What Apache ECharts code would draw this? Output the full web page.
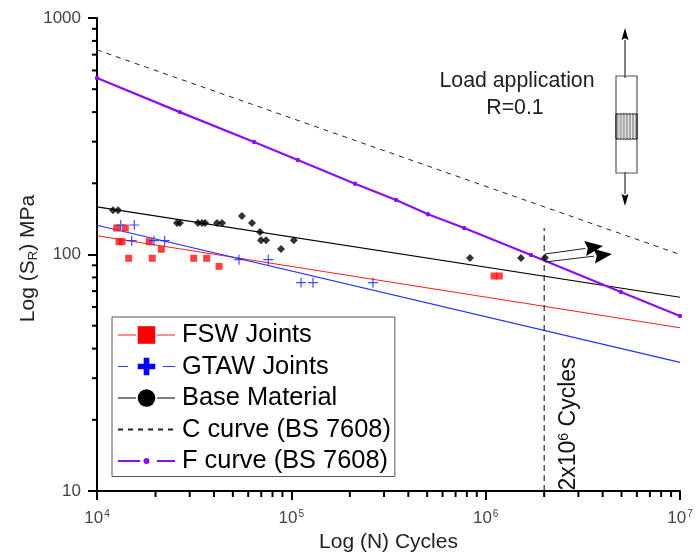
<!DOCTYPE html>
<html><head><meta charset="utf-8">
<style>html,body{margin:0;padding:0;background:#fff}#c{width:699px;height:552px}</style>
<script src="https://cdn.jsdelivr.net/npm/echarts@6/dist/echarts.min.js"></script>
</head><body><div id="c"></div>
<script>
const fswPoints=[[12630,129.4],[13985,129.4],[12980,113.3],[13450,113.3],[14550,96.4],[19250,96.4],[18580,113.3],[21430,105.2],[31450,96.4],[36680,96.4],[42470,89.1],[1104000,81.1],[1175000,81.1]];
const gtawPoints=[[13240,133.3],[15560,133.3],[15090,114.4],[19640,114.4],[22290,114.4],[53800,95.1],[76100,95.1],[112200,76],[129300,76],[263000,76]];
const basePoints=[[12090,154],[12830,154],[25800,136],[26700,136],[33100,136],[34700,136],[36000,136],[41450,136],[44000,136],[55700,145.5],[62750,136],[69000,124.5],[69800,115],[74100,115],[88500,105.5],[103000,115],[830000,96.7],[1520000,96.7],[2018000,97]];
const fswLine=[[1e4,120],[1e7,49]];
const gtawLine=[[1e4,133],[1e7,35]];
const baseLine=[[1e4,159],[1e7,66]];
const cCurve=[[1e4,733],[1e7,100]];
const fCurve=[[1e4,558],[26700,400],[64300,299],[108000,251],[212700,199],[346000,170],[505000,148],[775000,129.5],[1710000,99.5],[4966000,69.4],[1e7,55]];
const refLine=[[2e6,10],[2e6,129.4]];
const xMinor=[2,3,4,5,6,7,8,9].flatMap(m=>[1e4,1e5,1e6].map(d=>m*d));
const yMinor=[2,3,4,5,6,7,8,9].flatMap(m=>[10,100].map(d=>m*d));
const sup=v=>`{b|10}{s|${Math.round(Math.log10(v))}}`;
const thinPlus='path://M4.4 0h1.2v4.4h4.4v1.2h-4.4v4.4h-1.2v-4.4h-4.4v-1.2h4.4z';
const thickPlus='path://M3.4 0h3.2v3.4h3.4v3.2h-3.4v3.4h-3.2v-3.4h-3.4v-3.2h3.4z';
const smallDot='path://M0 0h.01v.01zM10 10h.01v.01zM5 3.3a1.7 1.7 0 1 0 .01 0z';
const tickText='#444';
const chart=echarts.init(document.getElementById('c'),null,{renderer:'canvas'});
function fitLine(name,data,color,width,extra){return Object.assign({name,type:'line',data,showSymbol:false,symbol:'circle',lineStyle:{color,width},itemStyle:{color},silent:true,z:3,animation:false},extra||{});}
function pts(name,data,color,symbol,size){return {name,type:'scatter',data,symbol,symbolSize:size,itemStyle:{color},silent:true,z:4,animation:false};}
function minorTicks(axis,vals){return {type:'custom',silent:true,z:5,clip:false,animation:false,data:vals.map(v=>[v]),encode:{x:axis==='x'?0:-1,y:axis==='y'?0:-1},
 renderItem(p,api){const v=api.value(0);
  if(axis==='x'){const c=api.coord([v,10]);return {type:'line',shape:{x1:c[0],y1:c[1],x2:c[0],y2:c[1]+6},style:{stroke:'#000',lineWidth:2}};}
  const c=api.coord([1e4,v]);return {type:'line',shape:{x1:c[0],y1:c[1],x2:c[0]-5,y2:c[1]},style:{stroke:'#000',lineWidth:2}};}};}
const arrow=(x1,y1,x2,y2,col,w,hl,hw)=>{const a=Math.atan2(y2-y1,x2-x1),ca=Math.cos(a),sa=Math.sin(a);
 return [{type:'line',shape:{x1,y1,x2:x2-hl*ca,y2:y2-hl*sa},style:{stroke:col,lineWidth:w},z:10},
 {type:'polygon',shape:{points:[[x2,y2],[x2-hl*ca-hw*sa,y2-hl*sa+hw*ca],[x2-hl*0.85*ca,y2-hl*0.85*sa],[x2-hl*ca+hw*sa,y2-hl*sa-hw*ca]]},style:{fill:'#000'},z:10}];};
const hatch=[1,2,3,4,5,6].map(i=>({type:'line',shape:{x1:616+i*3.1,y1:114,x2:616+i*3.1,y2:139},style:{stroke:'#fff',lineWidth:0.7},z:11}));
chart.setOption({
 animation:false,
 textStyle:{fontFamily:'"Liberation Sans",Arial,sans-serif'},
 grid:{left:97,right:19,top:18,bottom:61,containLabel:false,outerBoundsMode:'none'},
 xAxis:{type:'log',logBase:10,min:1e4,max:1e7,name:'Log (N) Cycles',nameLocation:'middle',nameGap:39,
  nameTextStyle:{fontSize:21,color:'#222',fontFamily:'"Liberation Sans"'},
  axisLine:{show:true,onZero:false,lineStyle:{color:'#000',width:2}},axisTick:{show:true,length:9,lineStyle:{color:'#000',width:2}},splitLine:{show:false},minorTick:{show:false},
  axisLabel:{formatter:v=>sup(v),margin:18,hideOverlap:false,showMinLabel:true,showMaxLabel:true,rich:{b:{fontSize:17,color:tickText,fontFamily:'"Liberation Sans"'},s:{fontSize:10,color:tickText,verticalAlign:'bottom',padding:[0,0,8,1],fontFamily:'"Liberation Sans"'}}}},
 yAxis:{type:'log',logBase:10,min:10,max:1000,name:'{a|Log (S}{u|R}{a|) MPa}',nameLocation:'middle',nameGap:57,nameRotate:90,nameMoveOverlap:false,
  nameTextStyle:{padding:[0,8,0,0],rich:{a:{fontSize:21,color:'#222',fontFamily:'"Liberation Sans"'},u:{fontSize:13,color:'#222',verticalAlign:'top',padding:[10,0,0,0],fontFamily:'"Liberation Sans"'}}},
  axisLine:{show:true,onZero:false,lineStyle:{color:'#000',width:2}},axisTick:{show:true,length:9,lineStyle:{color:'#000',width:2}},splitLine:{show:false},minorTick:{show:false},
  axisLabel:{fontSize:17,color:tickText,margin:16,formatter:v=>String(Math.round(v)),fontFamily:'"Liberation Sans"'}},
 legend:{show:true,orient:'vertical',left:112,top:317,padding:[5.5,4,3,5],itemWidth:57,itemHeight:22,itemGap:6.5,backgroundColor:'#fff',borderColor:'#555',borderWidth:1,borderRadius:0,selectedMode:false,
  textStyle:{fontSize:25.4,color:'#000',fontFamily:'"Liberation Sans"',padding:[0,0,0,2]},
  data:[{name:'FSW Joints',lineStyle:{color:'#ff2020',type:[18,21,18],width:1}},{name:'GTAW Joints',lineStyle:{color:'#3040ff',type:[10,35,12],width:1}},{name:'Base Material',lineStyle:{color:'#000',type:[18,21,18],width:1}},{name:'C curve (BS 7608)'},{name:'F curve (BS 7608)',lineStyle:{color:'#8a10f0',type:[22,17,18],width:2}}]},
 series:[
  minorTicks('x',xMinor),minorTicks('y',yMinor),
  fitLine('FSW Joints',fswLine,'#ff2020',1.2,{symbol:'rect',itemStyle:{color:'#ff0000'}}),
  fitLine('GTAW Joints',gtawLine,'#2030ff',1.2,{symbol:thickPlus,itemStyle:{color:'#0000ff'}}),
  fitLine('Base Material',baseLine,'#000',1.1,{symbol:'circle'}),
  fitLine('C curve (BS 7608)',cCurve,'#222',1,{lineStyle:{color:'#222',width:1,type:[5,5]},itemStyle:{color:'transparent'}}),
  {name:'F curve (BS 7608)',type:'line',data:fCurve,symbol:smallDot,symbolSize:13,showSymbol:true,lineStyle:{color:'#8a10f0',width:2.2},itemStyle:{color:'#8a10f0'},silent:true,z:3,animation:false},
  {name:'2e6 reference',type:'line',data:refLine,symbol:'none',clip:false,lineStyle:{color:'#000',width:1,type:[6,4]},silent:true,z:3,animation:false},
  pts('FSW points',fswPoints,'#ff1010','rect',7),
  pts('GTAW points',gtawPoints,'#1020ff',thinPlus,10),
  pts('Base points',basePoints,'#000','diamond',8)
 ],
 graphic:[
  {type:'text',x:517,y:81,style:{text:'Load application',fontSize:21.3,fill:'#222',align:'center',verticalAlign:'middle',fontFamily:'"Liberation Sans"'},z:10},
  {type:'text',x:515,y:108,style:{text:'R=0.1',fontSize:21.3,fill:'#222',align:'center',verticalAlign:'middle',fontFamily:'"Liberation Sans"'},z:10},
  {type:'text',x:569,y:424,rotation:Math.PI/2,originX:0,originY:0,style:{rich:{b:{fontSize:23,fill:'#111',fontFamily:'"Liberation Sans"'},s:{fontSize:14,fill:'#111',verticalAlign:'bottom',padding:[0,0,10,0],fontFamily:'"Liberation Sans"'}},text:'{b|2x10}{s|6}{b| Cycles}',align:'center',verticalAlign:'middle'},z:10},
  {type:'rect',shape:{x:616,y:76,width:21,height:97},style:{fill:'#fff',stroke:'#555',lineWidth:1.2},z:10},
  {type:'rect',shape:{x:616,y:114,width:21,height:25},style:{fill:'#aaa',stroke:'#000',lineWidth:1},z:10},
  ...hatch,
  ...arrow(625,78,625,28,'#555',1.5,12,3.5),
  ...arrow(625,172,625,206,'#555',1.5,12,3.5),
  ...arrow(545,254,603,246,'#222',1,18,7.5),
  ...arrow(545,262,612,254,'#222',1,18,7.5)
 ]
});
</script></body></html>
